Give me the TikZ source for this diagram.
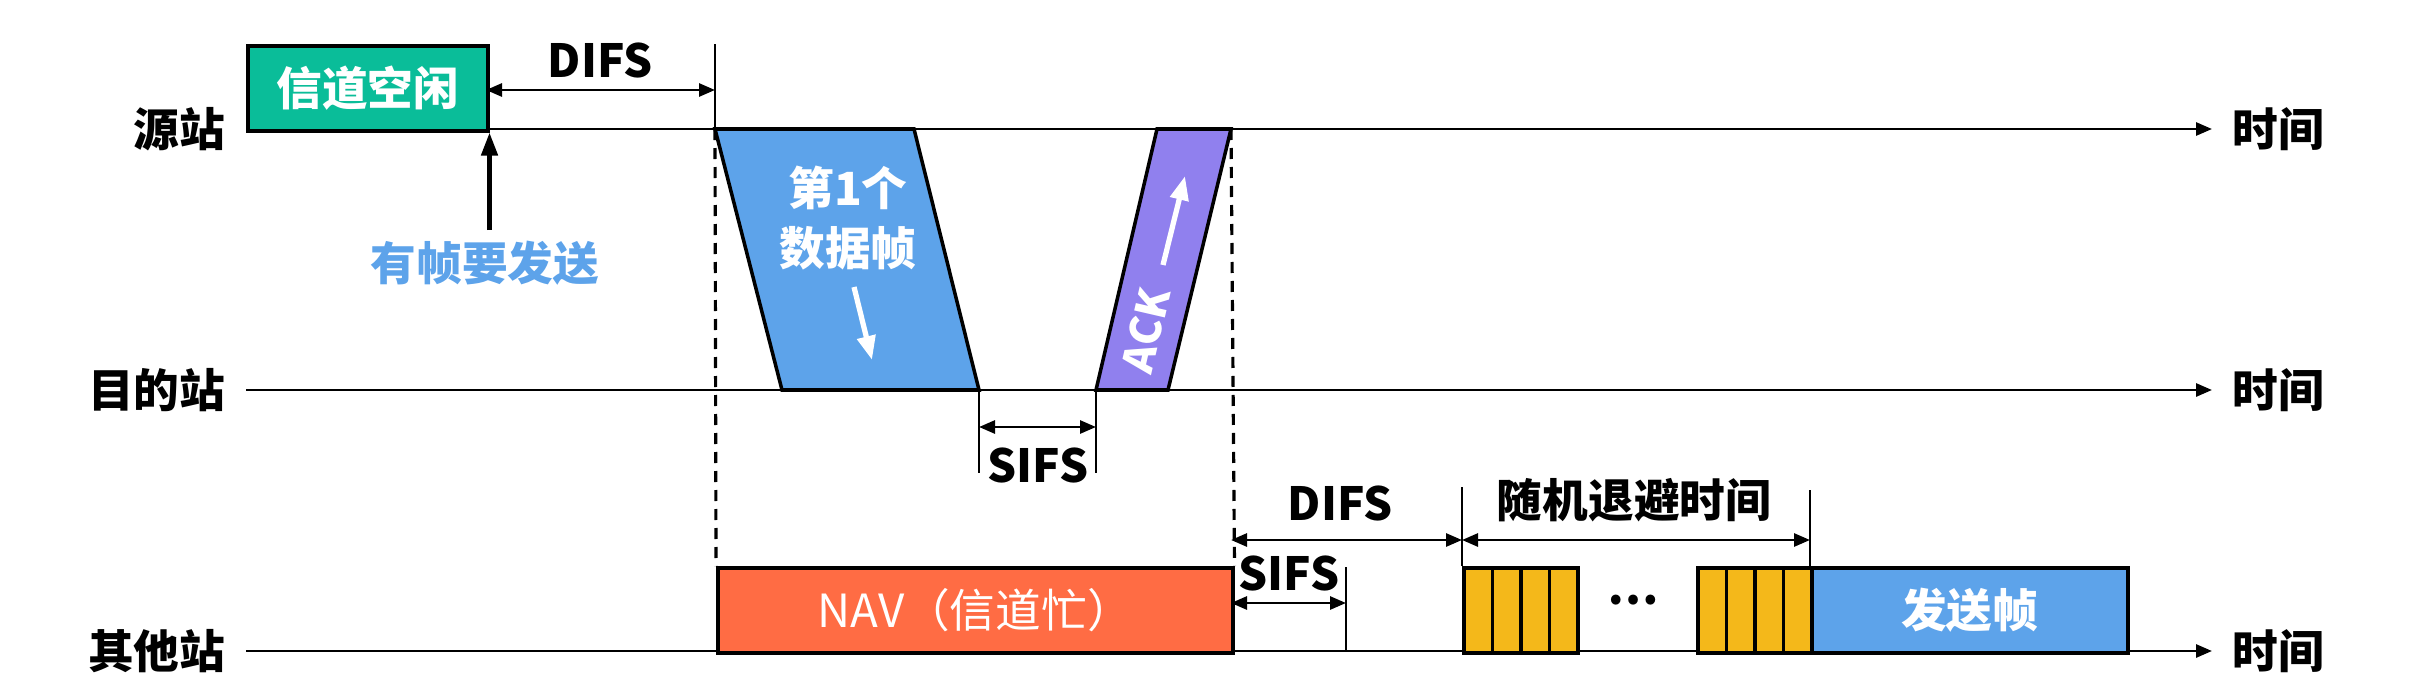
\documentclass[tikz,border=0pt]{standalone}
\usepackage{fontspec}
\setmainfont{Noto Sans CJK SC}
\usetikzlibrary{arrows.meta,positioning,calc}
\definecolor{idlegreen}{HTML}{0ABD99}
\definecolor{frameblue}{HTML}{5DA3EA}
\definecolor{ackpurple}{HTML}{9080EE}
\definecolor{navorange}{HTML}{FF6C44}
\definecolor{slotyellow}{HTML}{F4B81A}

\begin{document}
\begin{tikzpicture}[
  x=0.1mm, y=-0.1mm,
  >={Triangle[length=1.6mm,width=1.3mm]},
  every node/.style={font=\fontsize{13pt}{17pt}\selectfont\bfseries},
  taxis/.style={->,line width=0.8pt},
  tline/.style={line width=0.8pt},
  tspan/.style={<->,line width=0.8pt},
  tdash/.style={line width=0.9pt,dash pattern=on 1.1mm off 0.8mm},
  tpoly/.style={draw,line width=1pt},
  tbox/.style={draw,line width=1pt,anchor=north west,inner sep=0pt,text=white,minimum height=8.5mm},
  tslot/.style={draw,line width=1pt,fill=slotyellow,anchor=north west,inner sep=0pt,minimum width=2.85mm,minimum height=8.5mm},
  tname/.style={anchor=east,inner sep=2mm},
  ttime/.style={anchor=west,inner sep=2mm},
  tarrow/.style={white,line width=1.5pt,-{Triangle[length=2.4mm,width=1.8mm]}}
]
\useasboundingbox (0,0) rectangle (2414,698);

% stations and time axes
\node[tname] (src) at (246,129) {源站};
\node[tname] (dst) at (246,390) {目的站};
\node[tname] (oth) at (246,651) {其他站};
\node[ttime] (tsrc) at (2212,129) {时间};
\node[ttime] (tdst) at (2212,390) {时间};
\node[ttime] (toth) at (2212,651) {时间};
\draw[taxis] (src.east) -- (tsrc.west);
\draw[taxis] (dst.east) -- (tdst.west);
\draw[taxis] (oth.east) -- (toth.west);

% source station
\node[tbox,fill=idlegreen,minimum width=24mm] (idle) at (246,44) {信道空闲};
\node[text=frameblue,inner sep=1mm] (want) at (485,263) {有帧要发送};
\draw[->,line width=1.3pt,>={Triangle[length=2.3mm,width=1.6mm]}] (want.north -| idle.south east) -- (idle.south east);

\coordinate (difsa) at (486,90);
\coordinate (difsb) at (715,90);
\coordinate (difstop) at (715,44);
\draw[tline] (difstop) -- (difstop |- src.east);
\draw[tspan] (difsa) -- (difsb);
\node (difs1) at (600,61) {DIFS};

% data frame and ACK
\coordinate (d1) at (715,129);
\coordinate (d2) at (914,129);
\coordinate (d3) at (979,390);
\coordinate (d4) at (782,390);
\coordinate (k1) at (1157,129);
\coordinate (k2) at (1231,129);
\coordinate (k3) at (1168,390);
\coordinate (k4) at (1096,390);
\draw[tpoly,fill=frameblue] (d1) -- (d2) -- (d3) -- (d4) -- cycle;
\draw[tpoly,fill=ackpurple] (k1) -- (k2) -- (k3) -- (k4) -- cycle;
\node[text=white,align=center] (data) at (848,218) {第1个\\数据帧};
\coordinate (da1) at (854,287);
\coordinate (da2) at (872,360);
\draw[tarrow] (da1) -- (da2);
\node[text=white,rotate=77,font=\fontsize{12pt}{14pt}\selectfont\bfseries] (ack) at (1146,330) {ACK};
\coordinate (ka1) at (1163,265);
\coordinate (ka2) at (1185,176);
\draw[tarrow] (ka1) -- (ka2);

% SIFS between frame and ACK
\coordinate (s1) at (979,473);
\coordinate (s2) at (1096,473);
\draw[tline] (d3) -- (s1);
\draw[tline] (k4) -- (s2);
\draw[tspan] (d3 |- 0,427) -- (k4 |- 0,427);
\node (sifs1) at (1038,465) {SIFS};

% other stations
\node[tbox,fill=navorange,minimum width=51.5mm,font=\fontsize{13pt}{15pt}\selectfont] (nav) at (716,566) {NAV（信道忙）};
\draw[tdash] (d1) -- (nav.north west);
\draw[tdash] (k2) -- (nav.north east);

\foreach \i in {0,...,3} {
  \node[tslot] (sa\i) at ({1462+28.5*\i},566) {};
  \node[tslot] (sb\i) at ({1696+28.5*\i},566) {};
}
\node[tbox,fill=frameblue,minimum width=31.6mm] (send) at (1810,566) {发送帧};
\node (dots) at (1633,600) {…};

\coordinate (difsc) at (1231,540);
\coordinate (difsd) at (1462,540);
\coordinate (backe) at (1810,540);
\coordinate (sifsc) at (1231,603);
\coordinate (sifsd) at (1346,603);
\coordinate (sifstop) at (1346,567);
\draw[tline] (sa0.north west) -- ++(0,-79);
\draw[tline] (send.north west) -- ++(0,-76);
\draw[tline] (sifstop) -- (sifstop |- oth.east);
\draw[tspan] (difsc) -- (difsd);
\draw[tspan] (difsd) -- (backe);
\draw[tspan] (sifsc) -- (sifsd);
\node (difs2) at (1340,503) {DIFS};
\node (sifs2) at (1289,573) {SIFS};
\node (back) at (1634,500) {随机退避时间};
\end{tikzpicture}
\end{document}
